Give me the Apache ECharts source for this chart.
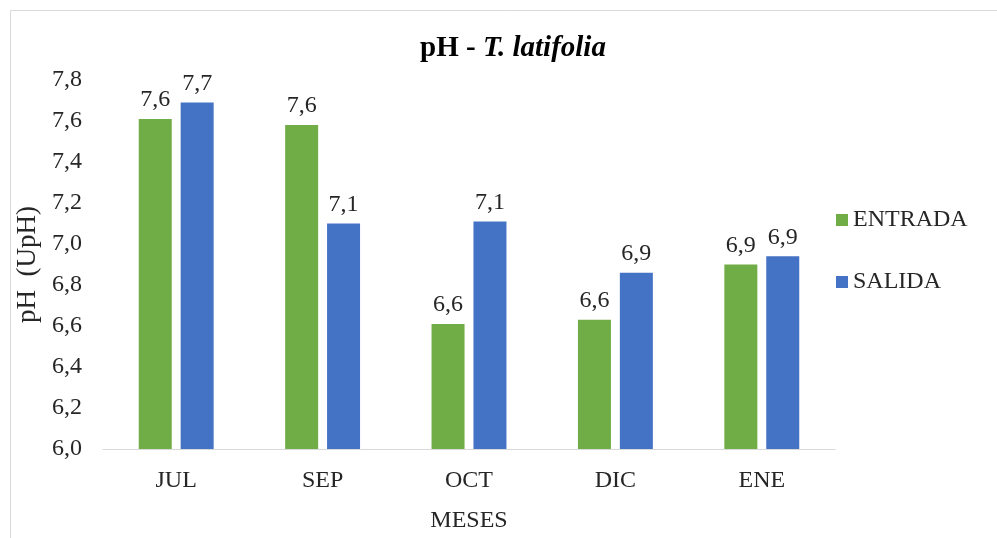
<!DOCTYPE html>
<html>
<head>
<meta charset="utf-8">
<script src="https://cdn.jsdelivr.net/npm/echarts@6/dist/echarts.min.js"></script>
<style>html,body{margin:0;padding:0;background:#fff;}#main{width:997px;height:538px;}</style>
</head>
<body>
<div id="main"></div>
<script>
var categories = ['JUL', 'SEP', 'OCT', 'DIC', 'ENE'];
var entrada = [7.61, 7.58, 6.61, 6.63, 6.90];
var salida = [7.69, 7.10, 7.11, 6.86, 6.94];
var seriesNames = ['ENTRADA', 'SALIDA'];
var yMin = 6.0, yMax = 7.8, yStep = 0.2;

var FONT = '"Liberation Serif", "Times New Roman", serif';
var chart = echarts.init(document.getElementById('main'));
function fmt(v) { return v.toFixed(1).replace('.', ','); }
var labelCfg = {
  show: true, position: 'top', distance: 7,
  fontFamily: FONT, fontSize: 24, color: '#262626',
  formatter: function (p) { return fmt(p.value); }
};
chart.setOption({
  backgroundColor: '#fff',
  animation: false,
  graphic: [{
    type: 'rect', shape: { x: 10.5, y: 10.5, width: 1000, height: 540 },
    style: { fill: 'none', stroke: '#d9d9d9', lineWidth: 1 }, silent: true
  }],
  title: {
    text: '{b|pH - }{bi|T. latifolia}',
    left: 508, top: 29, textAlign: 'center',
    textStyle: {
      rich: {
        b: { fontFamily: FONT, fontSize: 29, fontWeight: 'bold', color: '#000' },
        bi: { fontFamily: FONT, fontSize: 29, fontWeight: 'bold', fontStyle: 'italic', color: '#000' }
      }
    }
  },
  legend: {
    orient: 'vertical', left: 831, top: 203, itemGap: 38,
    icon: 'rect', itemWidth: 12, itemHeight: 12,
    textStyle: { fontFamily: FONT, fontSize: 24, color: '#262626' },
    data: seriesNames
  },
  grid: { left: 103, right: 162, top: 80, bottom: 83, containLabel: false },
  xAxis: {
    type: 'category', data: categories,
    name: 'MESES', nameLocation: 'middle', nameGap: 60,
    nameTextStyle: { fontFamily: FONT, fontSize: 24, color: '#262626' },
    axisLine: { lineStyle: { color: '#d9d9d9', width: 1 } },
    axisTick: { show: false },
    axisLabel: { fontFamily: FONT, fontSize: 24, color: '#262626', margin: 20 }
  },
  yAxis: {
    type: 'value', min: yMin, max: yMax, interval: yStep,
    name: 'pH  (UpH)', nameLocation: 'middle', nameGap: 54, nameRotate: 90,
    nameTextStyle: { fontFamily: FONT, fontSize: 27, color: '#262626' },
    axisLine: { show: false }, axisTick: { show: false },
    splitLine: { show: false },
    axisLabel: { fontFamily: FONT, fontSize: 24, color: '#262626', margin: 21,
      formatter: function (v) { return v.toFixed(1).replace('.', ','); } }
  },
  series: [
    { name: seriesNames[0], type: 'bar', data: entrada, barWidth: 33, barGap: '27%',
      itemStyle: { color: '#70AD47' }, label: labelCfg },
    { name: seriesNames[1], type: 'bar', data: salida, barWidth: 33, barGap: '27%',
      itemStyle: { color: '#4472C4' }, label: labelCfg }
  ]
});
</script>
</body>
</html>
